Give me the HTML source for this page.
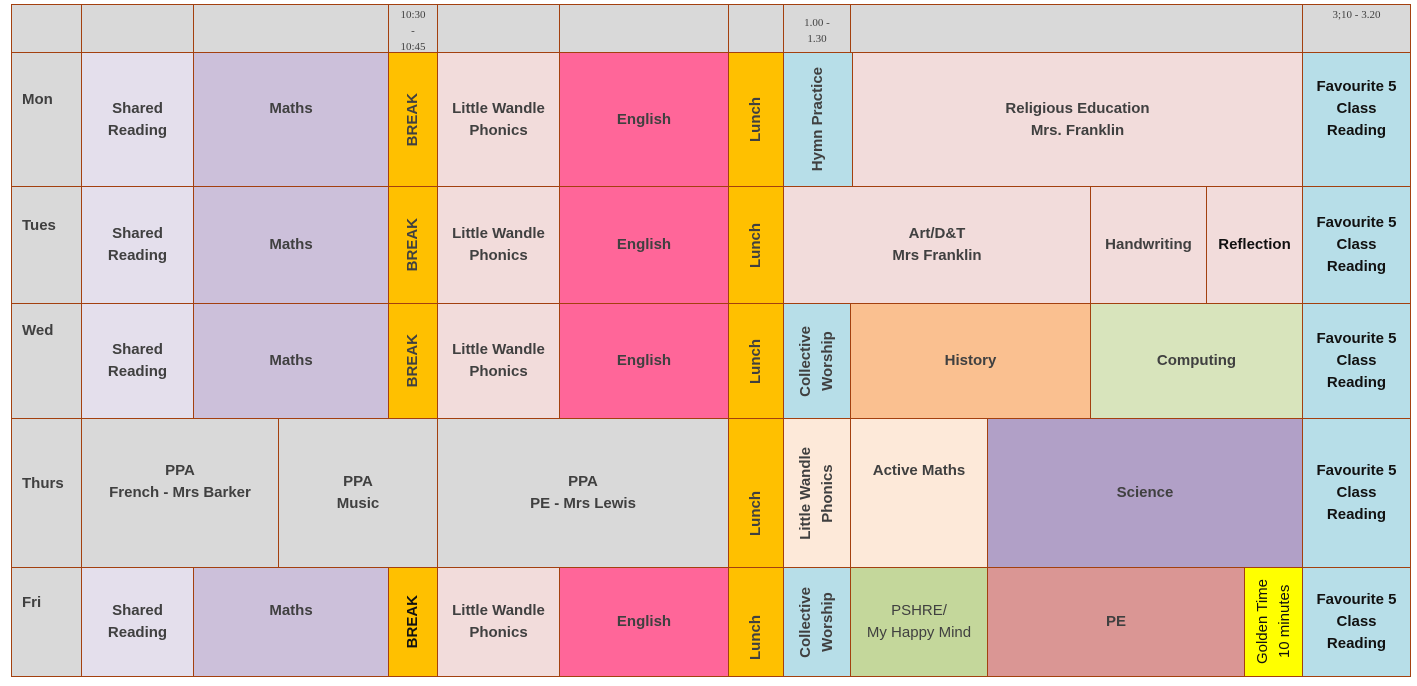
<!DOCTYPE html>
<html><head><meta charset="utf-8"><style>
body{margin:0;width:1417px;height:686px;background:#fff;position:relative;overflow:hidden;font-family:"Liberation Sans",sans-serif;}
.c{position:absolute;box-sizing:border-box;border:1px solid #a3400f;display:flex;align-items:center;justify-content:center;text-align:center;color:#404040;font-weight:bold;font-size:15px;line-height:22px;}
.v span{writing-mode:vertical-rl;transform:rotate(180deg);line-height:22px;}
.h{background:#d9d9d9;font-weight:normal;font-size:11px;line-height:16px;align-items:flex-start;padding-top:2px;font-family:"Liberation Serif",serif;}
.d{background:#d9d9d9;align-items:flex-start;justify-content:flex-start;padding:36px 0 0 10px;}
.k{color:#111;}
</style></head><body>
<div>
<!-- header -->
<div class="c h" style="left:11px;top:4px;width:71px;height:49px"></div>
<div class="c h" style="left:81px;top:4px;width:113px;height:49px"></div>
<div class="c h" style="left:193px;top:4px;width:196px;height:49px"></div>
<div class="c h" style="left:388px;top:4px;width:50px;height:49px">10:30<br>-<br>10:45</div>
<div class="c h" style="left:437px;top:4px;width:123px;height:49px"></div>
<div class="c h" style="left:559px;top:4px;width:170px;height:49px"></div>
<div class="c h" style="left:728px;top:4px;width:56px;height:49px"></div>
<div class="c h" style="left:783px;top:4px;width:68px;height:49px;padding-top:10px">1.00 -<br>1.30</div>
<div class="c h" style="left:850px;top:4px;width:453px;height:49px"></div>
<div class="c h" style="left:1302px;top:4px;width:109px;height:49px">3;10 - 3.20</div>

<!-- Mon -->
<div class="c d" style="left:11px;top:52px;width:71px;height:135px">Mon</div>
<div class="c" style="left:81px;top:52px;width:113px;height:135px;background:#e4dfec">Shared<br>Reading</div>
<div class="c" style="left:193px;top:52px;width:196px;height:135px;background:#ccc0da;padding-bottom:22px">Maths</div>
<div class="c v" style="left:388px;top:52px;width:50px;height:135px;background:#ffc000"><span>BREAK</span></div>
<div class="c" style="left:437px;top:52px;width:123px;height:135px;background:#f2dcdb">Little Wandle<br>Phonics</div>
<div class="c" style="left:559px;top:52px;width:170px;height:135px;background:#ff6699">English</div>
<div class="c v" style="left:728px;top:52px;width:56px;height:135px;background:#ffc000"><span>Lunch</span></div>
<div class="c v" style="left:783px;top:52px;width:70px;height:135px;background:#b7dee8"><span>Hymn Practice</span></div>
<div class="c" style="left:852px;top:52px;width:451px;height:135px;background:#f2dcdb">Religious Education<br>Mrs. Franklin</div>
<div class="c k" style="left:1302px;top:52px;width:109px;height:135px;background:#b7dee8;padding-bottom:22px">Favourite 5<br>Class<br>Reading</div>

<!-- Tues -->
<div class="c d" style="left:11px;top:186px;width:71px;height:118px;padding-top:28px">Tues</div>
<div class="c" style="left:81px;top:186px;width:113px;height:118px;background:#e4dfec">Shared<br>Reading</div>
<div class="c" style="left:193px;top:186px;width:196px;height:118px;background:#ccc0da">Maths</div>
<div class="c v" style="left:388px;top:186px;width:50px;height:118px;background:#ffc000"><span>BREAK</span></div>
<div class="c" style="left:437px;top:186px;width:123px;height:118px;background:#f2dcdb">Little Wandle<br>Phonics</div>
<div class="c" style="left:559px;top:186px;width:170px;height:118px;background:#ff6699">English</div>
<div class="c v" style="left:728px;top:186px;width:56px;height:118px;background:#ffc000"><span>Lunch</span></div>
<div class="c" style="left:783px;top:186px;width:308px;height:118px;background:#f2dcdb">Art/D&amp;T<br>Mrs Franklin</div>
<div class="c" style="left:1090px;top:186px;width:117px;height:118px;background:#f2dcdb">Handwriting</div>
<div class="c k" style="left:1206px;top:186px;width:97px;height:118px;background:#f2dcdb">Reflection</div>
<div class="c k" style="left:1302px;top:186px;width:109px;height:118px;background:#b7dee8">Favourite 5<br>Class<br>Reading</div>

<!-- Wed -->
<div class="c d" style="left:11px;top:303px;width:71px;height:116px;padding-top:16px">Wed</div>
<div class="c" style="left:81px;top:303px;width:113px;height:116px;background:#e4dfec">Shared<br>Reading</div>
<div class="c" style="left:193px;top:303px;width:196px;height:116px;background:#ccc0da">Maths</div>
<div class="c v" style="left:388px;top:303px;width:50px;height:116px;background:#ffc000"><span>BREAK</span></div>
<div class="c" style="left:437px;top:303px;width:123px;height:116px;background:#f2dcdb">Little Wandle<br>Phonics</div>
<div class="c" style="left:559px;top:303px;width:170px;height:116px;background:#ff6699">English</div>
<div class="c v" style="left:728px;top:303px;width:56px;height:116px;background:#ffc000"><span>Lunch</span></div>
<div class="c v" style="left:783px;top:303px;width:68px;height:116px;background:#b7dee8"><span>Collective<br>Worship</span></div>
<div class="c" style="left:850px;top:303px;width:241px;height:116px;background:#fac090">History</div>
<div class="c" style="left:1090px;top:303px;width:213px;height:116px;background:#d8e4bc">Computing</div>
<div class="c k" style="left:1302px;top:303px;width:109px;height:116px;background:#b7dee8">Favourite 5<br>Class<br>Reading</div>

<!-- Thurs -->
<div class="c d" style="left:11px;top:418px;width:71px;height:150px;padding-top:54px">Thurs</div>
<div class="c" style="left:81px;top:418px;width:198px;height:150px;background:#d9d9d9;padding-bottom:22px">PPA<br>French - Mrs Barker</div>
<div class="c" style="left:278px;top:418px;width:160px;height:150px;background:#d9d9d9">PPA<br>Music</div>
<div class="c" style="left:437px;top:418px;width:292px;height:150px;background:#d9d9d9">PPA<br>PE - Mrs Lewis</div>
<div class="c v" style="left:728px;top:418px;width:56px;height:150px;background:#ffc000;padding-top:40px"><span>Lunch</span></div>
<div class="c v" style="left:783px;top:418px;width:68px;height:150px;background:#fde9d9"><span>Little Wandle<br>Phonics</span></div>
<div class="c" style="left:850px;top:418px;width:138px;height:150px;background:#fde9d9;padding-bottom:44px">Active Maths</div>
<div class="c" style="left:987px;top:418px;width:316px;height:150px;background:#b1a0c7">Science</div>
<div class="c k" style="left:1302px;top:418px;width:109px;height:150px;background:#b7dee8">Favourite 5<br>Class<br>Reading</div>

<!-- Fri -->
<div class="c d" style="left:11px;top:567px;width:71px;height:110px;padding-top:24px">Fri</div>
<div class="c" style="left:81px;top:567px;width:113px;height:110px;background:#e4dfec">Shared<br>Reading</div>
<div class="c" style="left:193px;top:567px;width:196px;height:110px;background:#ccc0da;padding-bottom:22px">Maths</div>
<div class="c v k" style="left:388px;top:567px;width:50px;height:110px;background:#ffc000"><span>BREAK</span></div>
<div class="c" style="left:437px;top:567px;width:123px;height:110px;background:#f2dcdb">Little Wandle<br>Phonics</div>
<div class="c" style="left:559px;top:567px;width:170px;height:110px;background:#ff6699">English</div>
<div class="c v" style="left:728px;top:567px;width:56px;height:110px;background:#ffc000;padding-top:30px"><span>Lunch</span></div>
<div class="c v" style="left:783px;top:567px;width:68px;height:110px;background:#b7dee8"><span>Collective<br>Worship</span></div>
<div class="c" style="left:850px;top:567px;width:138px;height:110px;background:#c4d79b;font-weight:normal">PSHRE/<br>My Happy Mind</div>
<div class="c" style="left:987px;top:567px;width:258px;height:110px;background:#da9694">PE</div>
<div class="c v k" style="left:1244px;top:567px;width:59px;height:110px;background:#ffff00;font-weight:normal"><span>Golden Time<br>10 minutes</span></div>
<div class="c k" style="left:1302px;top:567px;width:109px;height:110px;background:#b7dee8">Favourite 5<br>Class<br>Reading</div>
</div>
</body></html>
